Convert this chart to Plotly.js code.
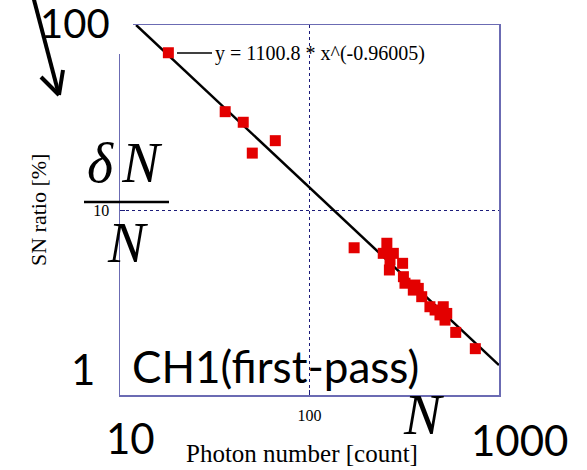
<!DOCTYPE html>
<html>
<head>
<meta charset="utf-8">
<script src="https://cdn.plot.ly/plotly-3.0.1.min.js"></script>
<style>
  html, body { margin: 0; padding: 0; background: #ffffff; }
  #chart { width: 587px; height: 470px; }
</style>
</head>
<body>
<div id="chart"></div>
<script>
// Measured signal-to-noise ratio against detected photon number (CH1, first pass)
const photons  = [18.0, 35.9, 44.7, 66.0, 49.9, 172, 256, 245, 277, 264, 266, 310, 313, 319, 353, 360, 375, 391, 432, 460, 488, 508, 530, 519, 591, 750];
const snRatio  = [70.8, 34.0, 29.8, 23.7, 20.3, 6.25, 6.61, 5.83, 5.83, 4.74, 5.37, 5.15, 4.36, 4.02, 3.69, 3.93, 3.77, 3.40, 3.00, 2.88, 2.71, 3.00, 2.76, 2.54, 2.18, 1.78];

// Power-law fit y = A * x^B
const fitA = 1100.8;
const fitB = -0.96005;
const fitLabel = 'y = 1100.8 * x^(-0.96005)';

const xTickVals = [100];
const xTickText = ['100'];
const yTickVals = [10];
const yTickText = ['10'];

const W = 587, H = 470;
const M = { l: 120, r: 88, t: 25, b: 75 };
const PW = W - M.l - M.r, PH = H - M.t - M.b;
// pixel -> paper helpers for the slide overlay
const px = v => (v - M.l) / PW;
const py = v => (H - M.b - v) / PH;

// fit line spans from where it enters the top of the plot to the right edge
const fitX = [Math.pow(100 / fitA, 1 / fitB), 1000];
const fitY = fitX.map(x => fitA * Math.pow(x, fitB));

const serif = 'Liberation Serif, Times New Roman, serif';
const sans = 'Lato, Open Sans, sans-serif';

const traces = [
  {
    x: fitX, y: fitY, type: 'scatter', mode: 'lines',
    line: { color: '#000000', width: 2.5 },
    hoverinfo: 'skip', showlegend: false
  },
  {
    x: photons, y: snRatio, type: 'scatter', mode: 'markers',
    marker: { symbol: 'square', size: 11, color: '#e30000' },
    showlegend: false
  }
];

const line = (x0, y0, x1, y1, w) => ({
  type: 'line', xref: 'paper', yref: 'paper',
  x0: px(x0), y0: py(y0), x1: px(x1), y1: py(y1),
  line: { color: '#000000', width: w }, layer: 'above'
});

const shapes = [
  // white label box hiding the top-left corner of the frame
  { type: 'rect', xref: 'paper', yref: 'paper', x0: px(20), x1: px(133), y0: py(54), y1: py(0),
    fillcolor: '#ffffff', line: { width: 0 }, layer: 'above' },
  // trendline legend key
  line(177, 53, 212, 53, 1.5),
  // fraction bar of dN/N
  line(84, 202, 169, 202, 2.5),
  // pointer arrow
  line(33, -4, 59, 95, 4),
  line(59, 95, 41, 77, 4),
  line(59, 95, 63, 70, 4)
];

const ann = (text, x, y, size, family, extra) => Object.assign({
  text, xref: 'paper', yref: 'paper', x: px(x), y: py(y),
  xanchor: 'center', yanchor: 'middle', showarrow: false,
  font: { family, size, color: '#000000' }
}, extra || {});

const annotations = [
  ann(fitLabel, 213, 53, 20, serif, { xanchor: 'left' }),
  ann('100', 75, 23, 40, sans),
  ann('1', 83, 369, 42, sans),
  ann('10', 130, 438, 42, sans),
  ann('1000', 519, 440, 42, sans),
  ann('CH1(first-pass)', 130, 366, 44, sans, { xanchor: 'left' }),
  ann('<i>δ\u2006N</i>', 124, 163, 56, serif),
  ann('<i>N</i>', 127, 243, 56, serif),
  ann('<i>N</i>', 423, 415, 56, serif),
  ann('SN ratio [%]', 38, 210, 22, serif, { textangle: -90 }),
  ann('Photon number [count]', 302, 453, 25, serif)
];

const axisCommon = {
  type: 'log',
  showline: true, mirror: true, linecolor: '#6b6bb3', linewidth: 1.5,
  showgrid: true, gridcolor: '#1c1c7a', gridwidth: 1, griddash: 'dot',
  zeroline: false,
  ticks: 'inside', ticklen: 5, tickcolor: '#1c1c7a',
  tickfont: { family: serif, size: 16, color: '#000000' }
};

const layout = {
  width: W, height: H,
  margin: M,
  paper_bgcolor: '#ffffff', plot_bgcolor: '#ffffff',
  showlegend: false,
  xaxis: Object.assign({}, axisCommon, {
    range: [1, 3], tickmode: 'array', tickvals: xTickVals, ticktext: xTickText,
    ticklabelstandoff: 5
  }),
  yaxis: Object.assign({}, axisCommon, {
    range: [0, 2], tickmode: 'array', tickvals: yTickVals, ticktext: yTickText,
    ticklabelstandoff: 6
  }),
  shapes, annotations
};

Plotly.newPlot('chart', traces, layout, { staticPlot: true, displayModeBar: false });
</script>
</body>
</html>
